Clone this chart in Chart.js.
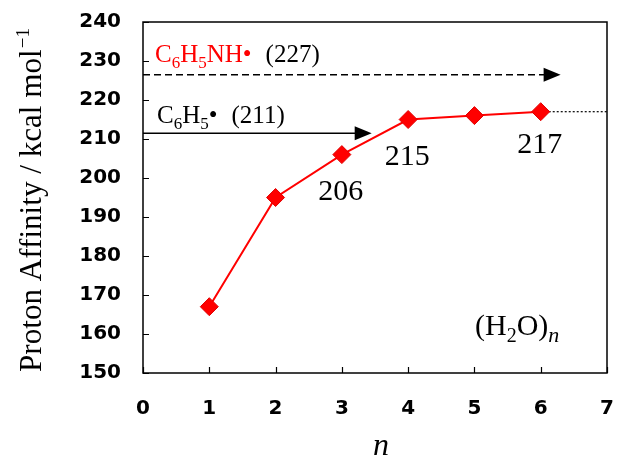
<!DOCTYPE html>
<html><head><meta charset="utf-8">
<script src="https://cdn.jsdelivr.net/npm/chart.js@4.4.1/dist/chart.umd.min.js"></script>
<style>html,body{margin:0;padding:0;background:#fff;overflow:hidden;}canvas{display:block;}</style>
</head><body>
<canvas id="c" width="617" height="459"></canvas>
<script>
// ---- data ----
const nValues = [1, 2, 3, 4, 5, 6];
const protonAffinity = [167, 195, 206, 215, 216, 217];
const labeledPoints = [3, 4, 6];            // n values whose PA is written next to the point
const labeledText = ['206', '215', '217'];
const anilinoPA = 227;                      // C6H5NH• label value
const anilinoLineY = 226.5;                 // drawn level of dashed arrow
const anilinoArrowEnd = 6.3;
const phenylPA = 211;                       // C6H5• label value
const phenylLineY = 211.5;                  // drawn level of solid arrow
const phenylArrowEnd = 3.45;
const xTicks = [0, 1, 2, 3, 4, 5, 6, 7];
const yTicks = [150, 160, 170, 180, 190, 200, 210, 220, 230, 240];

const SERIF = '"Liberation Serif", "Times New Roman", serif';

function drawRuns(ctx, x, y, runs) {
  ctx.save();
  ctx.textBaseline = 'alphabetic';
  ctx.textAlign = 'left';
  for (const r of runs) {
    ctx.font = (r.style || '') + ' ' + r.size + 'px ' + SERIF;
    ctx.fillStyle = r.color || '#000';
    ctx.fillText(r.t, x, y + (r.dy || 0));
    x += ctx.measureText(r.t).width + (r.gap || 0);
  }
  ctx.restore();
}

const overlay = {
  id: 'overlay',
  afterDraw(chart) {
    const ctx = chart.ctx;
    const xs = chart.scales.x, ys = chart.scales.y;
    const a = {
      left: xs.getPixelForValue(xTicks[0]), right: xs.getPixelForValue(xTicks[xTicks.length - 1]),
      top: ys.getPixelForValue(yTicks[yTicks.length - 1]), bottom: ys.getPixelForValue(yTicks[0])
    };
    ctx.save();
    // frame
    ctx.strokeStyle = '#000'; ctx.lineWidth = 1.5;
    ctx.strokeRect(a.left, a.top, a.right - a.left, a.bottom - a.top);
    // inward ticks
    ctx.lineWidth = 1.2;
    ctx.beginPath();
    yTicks.forEach(v => { const p = Math.round(ys.getPixelForValue(v)) + 0.5; ctx.moveTo(a.left, p); ctx.lineTo(a.left + 6, p); });
    xTicks.forEach(v => { const p = Math.round(xs.getPixelForValue(v)) + 0.5; ctx.moveTo(p, a.bottom); ctx.lineTo(p, a.bottom - 6); });
    ctx.stroke();
    // arrowheads
    function head(xv, yv) {
      const px = xs.getPixelForValue(xv), py = ys.getPixelForValue(yv);
      ctx.fillStyle = '#000';
      ctx.beginPath();
      ctx.moveTo(px, py); ctx.lineTo(px - 17, py - 7); ctx.lineTo(px - 17, py + 7); ctx.closePath(); ctx.fill();
    }
    head(anilinoArrowEnd, anilinoLineY);
    head(phenylArrowEnd, phenylLineY);
    ctx.restore();

    // reference labels
    const yA = ys.getPixelForValue(anilinoLineY) - 13;
    drawRuns(ctx, a.left + 12, yA, [
      {t: 'C', size: 25, color: '#ff0000'},
      {t: '6', size: 17, dy: 6, color: '#ff0000'},
      {t: 'H', size: 25, color: '#ff0000'},
      {t: '5', size: 17, dy: 6, color: '#ff0000'},
      {t: 'NH\u2022', size: 25, color: '#ff0000', gap: 14},
      {t: '(' + anilinoPA + ')', size: 25}
    ]);
    const yP = ys.getPixelForValue(phenylLineY) - 10;
    drawRuns(ctx, a.left + 14, yP, [
      {t: 'C', size: 25},
      {t: '6', size: 17, dy: 6},
      {t: 'H', size: 25},
      {t: '5', size: 17, dy: 6},
      {t: '\u2022', size: 25, gap: 14},
      {t: '(' + phenylPA + ')', size: 25}
    ]);
    // point value labels
    ctx.save();
    ctx.font = '30px ' + SERIF; ctx.fillStyle = '#000';
    ctx.textAlign = 'center'; ctx.textBaseline = 'alphabetic';
    labeledPoints.forEach((n, i) => {
      const idx = nValues.indexOf(n);
      const px = xs.getPixelForValue(n) - 1, py = ys.getPixelForValue(protonAffinity[idx]);
      ctx.fillText(labeledText[i], px, py + (n === 6 ? 41 : 45));
    });
    ctx.restore();
    // (H2O)n
    drawRuns(ctx, a.left + 332, ys.getPixelForValue(150) - 38, [
      {t: '(H', size: 30},
      {t: '2', size: 20, dy: 7},
      {t: 'O)', size: 30},
      {t: 'n', size: 22, dy: 7, style: 'italic'}
    ]);
    // y axis title (Times-like, slightly stretched along its length)
    ctx.save();
    ctx.fillStyle = '#000';
    ctx.translate(41, 200);
    ctx.rotate(-Math.PI / 2);
    ctx.textBaseline = 'alphabetic';
    const main = 'Proton Affinity / kcal mol';
    ctx.font = '31px ' + SERIF;
    const w1 = ctx.measureText(main).width;
    ctx.font = '19px ' + SERIF;
    const w2 = ctx.measureText('\u22121').width;
    const k = 344 / (w1 + w2 + 1);
    ctx.scale(k, 1);
    let sx = -(w1 + w2 + 1) / 2;
    ctx.font = '31px ' + SERIF;
    ctx.fillText(main, sx, 0);
    ctx.font = '19px ' + SERIF;
    ctx.fillText('\u22121', sx + w1 + 1, -12);
    ctx.restore();
    ctx.save();
    ctx.fillStyle = '#000';
    ctx.font = 'italic 32px ' + SERIF;
    ctx.textAlign = 'center'; ctx.textBaseline = 'alphabetic';
    ctx.fillText('n', (a.left + a.right) / 2 + 6, 455);
    ctx.restore();
  }
};

const tickFont = {family: '"DejaVu Sans", sans-serif', weight: 'bold', size: 20};

function noPad(s) { s.paddingLeft = 0; s.paddingRight = 0; s.paddingTop = 0; s.paddingBottom = 0; }

new Chart(document.getElementById('c'), {
  type: 'scatter',
  data: {
    datasets: [
      {
        data: nValues.map((n, i) => ({x: n, y: protonAffinity[i]})),
        showLine: true, borderColor: '#ff0000', borderWidth: 2,
        backgroundColor: '#ff0000', pointStyle: 'rectRot', pointRadius: 9,
        pointBorderColor: '#e00000', pointBorderWidth: 1, order: 0
      },
      {
        data: [{x: 0, y: anilinoLineY}, {x: anilinoArrowEnd - 0.2, y: anilinoLineY}],
        showLine: true, borderColor: '#000', borderWidth: 1.5, borderDash: [7, 4],
        pointRadius: 0, order: 1
      },
      {
        data: [{x: 0, y: phenylLineY}, {x: phenylArrowEnd - 0.2, y: phenylLineY}],
        showLine: true, borderColor: '#000', borderWidth: 1.5,
        pointRadius: 0, order: 1
      },
      {
        data: [{x: nValues[nValues.length - 1], y: protonAffinity[protonAffinity.length - 1]}, {x: 7, y: protonAffinity[protonAffinity.length - 1]}],
        showLine: true, borderColor: '#000', borderWidth: 1.2, borderDash: [2, 2],
        pointRadius: 0, order: 2
      }
    ]
  },
  options: {
    responsive: false, animation: false, devicePixelRatio: 1,
    layout: {padding: {top: 22, right: 3, left: 0, bottom: 0}},
    plugins: {legend: {display: false}, tooltip: {enabled: false}},
    scales: {
      x: {
        type: 'linear', min: 0, max: 7,
        afterBuildTicks: s => { s.ticks = xTicks.map(v => ({value: v})); },
        afterFit: s => { s.height = 86; noPad(s); },
        grid: {display: false, drawTicks: false},
        border: {display: false},
        ticks: {font: tickFont, color: '#000', padding: 24, maxRotation: 0}
      },
      y: {
        min: 150, max: 240,
        afterBuildTicks: s => { s.ticks = yTicks.map(v => ({value: v})); },
        afterFit: s => { s.width = 143; noPad(s); },
        grid: {display: false, drawTicks: false},
        border: {display: false},
        ticks: {font: tickFont, color: '#000', padding: 22}
      }
    }
  },
  plugins: [overlay]
});
</script>
</body></html>
